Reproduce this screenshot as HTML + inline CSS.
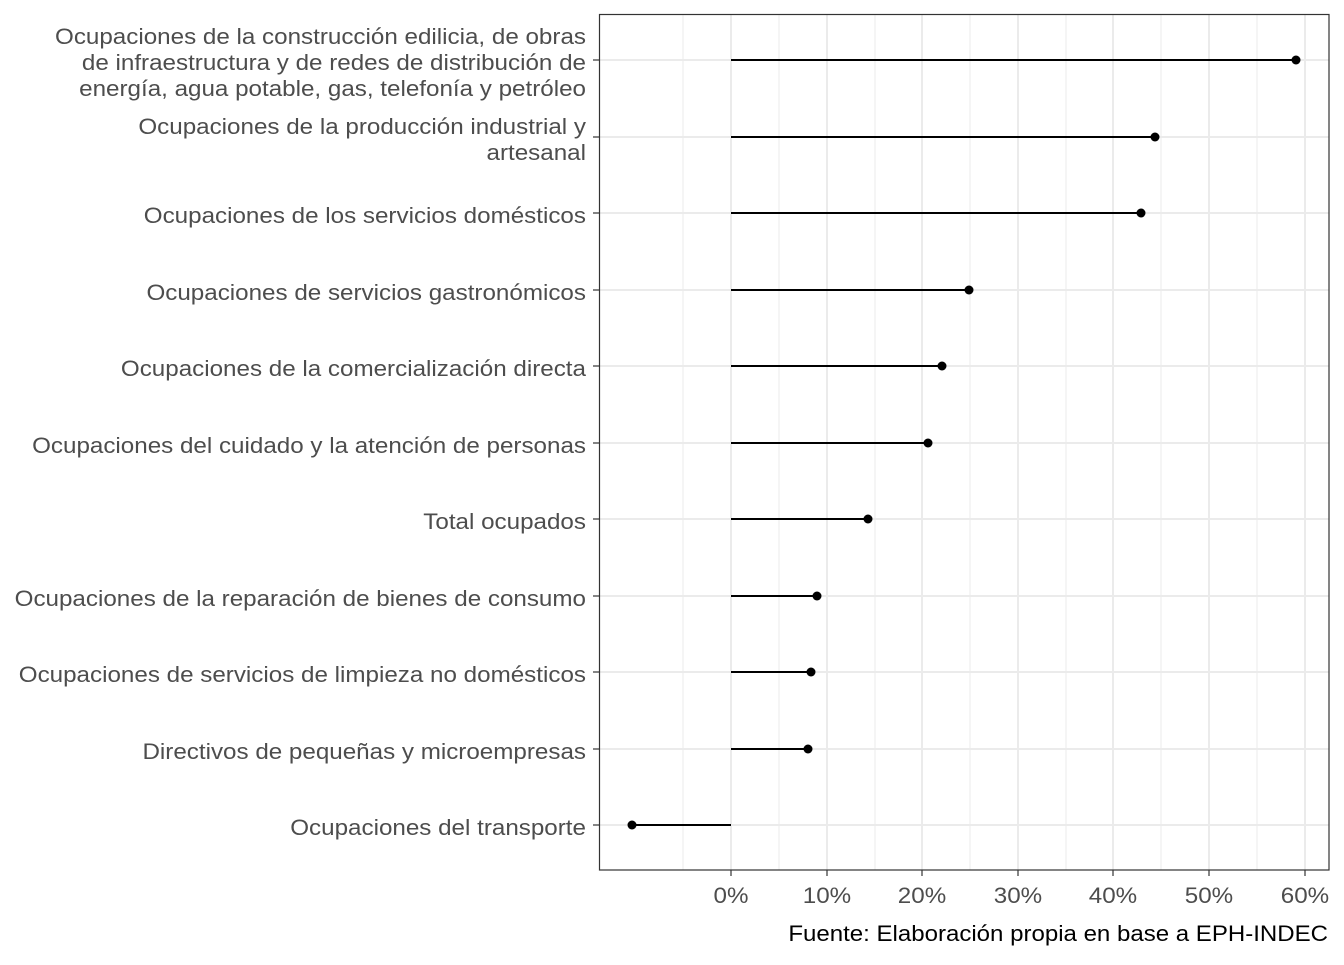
<!DOCTYPE html>
<html><head><meta charset="utf-8"><style>body{margin:0;background:#fff}</style></head><body>
<svg width="1344" height="960" xmlns="http://www.w3.org/2000/svg" font-family="Liberation Sans, Arial, sans-serif">
<rect width="1344" height="960" fill="#fff"/>
<g stroke="#ebebeb" stroke-width="1">
<line x1="683" y1="14" x2="683" y2="870"/><line x1="779" y1="14" x2="779" y2="870"/><line x1="875" y1="14" x2="875" y2="870"/><line x1="970" y1="14" x2="970" y2="870"/><line x1="1066" y1="14" x2="1066" y2="870"/><line x1="1161" y1="14" x2="1161" y2="870"/><line x1="1257" y1="14" x2="1257" y2="870"/>
</g>
<g stroke="#ebebeb" stroke-width="2">
<line x1="731" y1="14" x2="731" y2="870"/><line x1="827" y1="14" x2="827" y2="870"/><line x1="922" y1="14" x2="922" y2="870"/><line x1="1018" y1="14" x2="1018" y2="870"/><line x1="1113" y1="14" x2="1113" y2="870"/><line x1="1209" y1="14" x2="1209" y2="870"/><line x1="1305" y1="14" x2="1305" y2="870"/>
<line x1="599" y1="60" x2="1329" y2="60"/><line x1="599" y1="137" x2="1329" y2="137"/><line x1="599" y1="213" x2="1329" y2="213"/><line x1="599" y1="290" x2="1329" y2="290"/><line x1="599" y1="366" x2="1329" y2="366"/><line x1="599" y1="443" x2="1329" y2="443"/><line x1="599" y1="519" x2="1329" y2="519"/><line x1="599" y1="596" x2="1329" y2="596"/><line x1="599" y1="672" x2="1329" y2="672"/><line x1="599" y1="749" x2="1329" y2="749"/><line x1="599" y1="825" x2="1329" y2="825"/>
</g>
<g stroke="#000" stroke-width="2">
<line x1="731" y1="60" x2="1296" y2="60"/><line x1="731" y1="137" x2="1155" y2="137"/><line x1="731" y1="213" x2="1141" y2="213"/><line x1="731" y1="290" x2="969" y2="290"/><line x1="731" y1="366" x2="942" y2="366"/><line x1="731" y1="443" x2="928" y2="443"/><line x1="731" y1="519" x2="868" y2="519"/><line x1="731" y1="596" x2="817" y2="596"/><line x1="731" y1="672" x2="811" y2="672"/><line x1="731" y1="749" x2="808" y2="749"/><line x1="632" y1="825" x2="731" y2="825"/>
</g>
<g fill="#000">
<circle cx="1296" cy="60" r="4.5"/><circle cx="1155" cy="137" r="4.5"/><circle cx="1141" cy="213" r="4.5"/><circle cx="969" cy="290" r="4.5"/><circle cx="942" cy="366" r="4.5"/><circle cx="928" cy="443" r="4.5"/><circle cx="868" cy="519" r="4.5"/><circle cx="817" cy="596" r="4.5"/><circle cx="811" cy="672" r="4.5"/><circle cx="808" cy="749" r="4.5"/><circle cx="632" cy="825" r="4.5"/>
</g>
<rect x="599.5" y="14.5" width="729.5" height="855.5" fill="none" stroke="#333" stroke-width="1.2"/>
<g stroke="#333" stroke-width="1.2">
<line x1="593" y1="60" x2="599" y2="60"/><line x1="593" y1="137" x2="599" y2="137"/><line x1="593" y1="213" x2="599" y2="213"/><line x1="593" y1="290" x2="599" y2="290"/><line x1="593" y1="366" x2="599" y2="366"/><line x1="593" y1="443" x2="599" y2="443"/><line x1="593" y1="519" x2="599" y2="519"/><line x1="593" y1="596" x2="599" y2="596"/><line x1="593" y1="672" x2="599" y2="672"/><line x1="593" y1="749" x2="599" y2="749"/><line x1="593" y1="825" x2="599" y2="825"/>
<line x1="731" y1="870" x2="731" y2="876"/><line x1="827" y1="870" x2="827" y2="876"/><line x1="922" y1="870" x2="922" y2="876"/><line x1="1018" y1="870" x2="1018" y2="876"/><line x1="1113" y1="870" x2="1113" y2="876"/><line x1="1209" y1="870" x2="1209" y2="876"/><line x1="1305" y1="870" x2="1305" y2="876"/>
</g>
<g fill="#4d4d4d" font-size="22" text-anchor="end" transform="translate(586,0) scale(1.1,1) translate(-586,0)">
<text x="586" y="44">Ocupaciones de la construcción edilicia, de obras</text>
<text x="586" y="70">de infraestructura y de redes de distribución de</text>
<text x="586" y="96">energía, agua potable, gas, telefonía y petróleo</text>
<text x="586" y="134">Ocupaciones de la producción industrial y</text>
<text x="586" y="160">artesanal</text>
<text x="586" y="223">Ocupaciones de los servicios domésticos</text>
<text x="586" y="300">Ocupaciones de servicios gastronómicos</text>
<text x="586" y="376">Ocupaciones de la comercialización directa</text>
<text x="586" y="453">Ocupaciones del cuidado y la atención de personas</text>
<text x="586" y="529">Total ocupados</text>
<text x="586" y="606">Ocupaciones de la reparación de bienes de consumo</text>
<text x="586" y="682">Ocupaciones de servicios de limpieza no domésticos</text>
<text x="586" y="759">Directivos de pequeñas y microempresas</text>
<text x="586" y="835">Ocupaciones del transporte</text>
</g>
<g fill="#4d4d4d" font-size="22" text-anchor="middle">
<text x="731" y="903" transform="translate(731,0) scale(1.1,1) translate(-731,0)">0%</text>
<text x="827" y="903" transform="translate(827,0) scale(1.1,1) translate(-827,0)">10%</text>
<text x="922" y="903" transform="translate(922,0) scale(1.1,1) translate(-922,0)">20%</text>
<text x="1018" y="903" transform="translate(1018,0) scale(1.1,1) translate(-1018,0)">30%</text>
<text x="1113" y="903" transform="translate(1113,0) scale(1.1,1) translate(-1113,0)">40%</text>
<text x="1209" y="903" transform="translate(1209,0) scale(1.1,1) translate(-1209,0)">50%</text>
<text x="1305" y="903" transform="translate(1305,0) scale(1.1,1) translate(-1305,0)">60%</text>
</g>
<text x="1328" y="941" font-size="22" text-anchor="end" fill="#000" transform="translate(1328,0) scale(1.093,1) translate(-1328,0)">Fuente: Elaboración propia en base a EPH-INDEC</text>
</svg>
</body></html>
